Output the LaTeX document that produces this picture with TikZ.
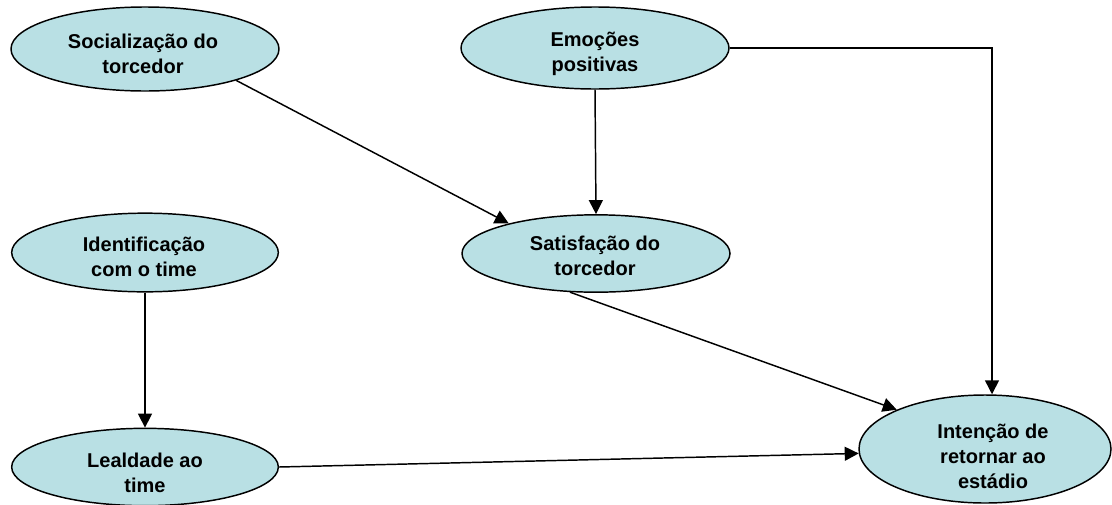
\documentclass[tikz,border=0pt]{standalone}
\usepackage{fontspec}
\setmainfont{Liberation Sans}
\usetikzlibrary{shapes.geometric,arrows.meta,calc}
\definecolor{bubble}{RGB}{185,224,228}
\begin{document}
\begin{tikzpicture}[x=0.75pt,y=-0.75pt,
  bubble/.style={ellipse,draw=black,line width=1.1pt,fill=bubble,inner sep=0pt},
  lbl/.style={align=center,font=\fontsize{15pt}{18.8pt}\selectfont\bfseries,inner sep=0pt},
  arr/.style={line width=1.1pt,-{Triangle[length=10.5pt,width=10.5pt]}}]
\useasboundingbox (0,0) rectangle (1112,504);
% ellipses
\node[bubble,minimum width=201pt,minimum height=63pt] (soc) at (145,49) {};
\node[bubble,minimum width=201pt,minimum height=61.5pt] (emo) at (595,48) {};
\node[bubble,minimum width=200pt,minimum height=59pt] (ide) at (145,252.5) {};
\node[bubble,minimum width=201pt,minimum height=58pt] (sat) at (596,253.5) {};
\node[bubble,minimum width=200pt,minimum height=58pt] (lea) at (145,467) {};
\node[bubble,minimum width=189pt,minimum height=81pt] (int) at (985,449) {};
% labels
\node[lbl] (tsoc) at (143,54) {Socialização do\\torcedor};
\node[lbl] (temo) at (595,54) {Emoções\\positivas};
\node[lbl] (tide) at (144,257) {Identificação\\com o time};
\node[lbl] (tsat) at (595,256) {Satisfação do\\torcedor};
\node[lbl] (tlea) at (145,473) {Lealdade ao\\time};
\node[lbl] (tint) at (993,456) {Intenção de\\retornar ao\\estádio};
% connectors
\coordinate (intTop) at ($(int.north)+(7,0)$);
\draw[arr] (soc.-19) -- (sat.161);
\draw[arr] (emo.south) -- (sat.north);
\draw[arr] (emo.east) -| (intTop);
\draw[arr] (ide.south) -- (lea.north);
\draw[arr] (sat.-124) -- (int.156.6);
\draw[arr] (lea.east) -- (int.182);
\end{tikzpicture}
\end{document}
